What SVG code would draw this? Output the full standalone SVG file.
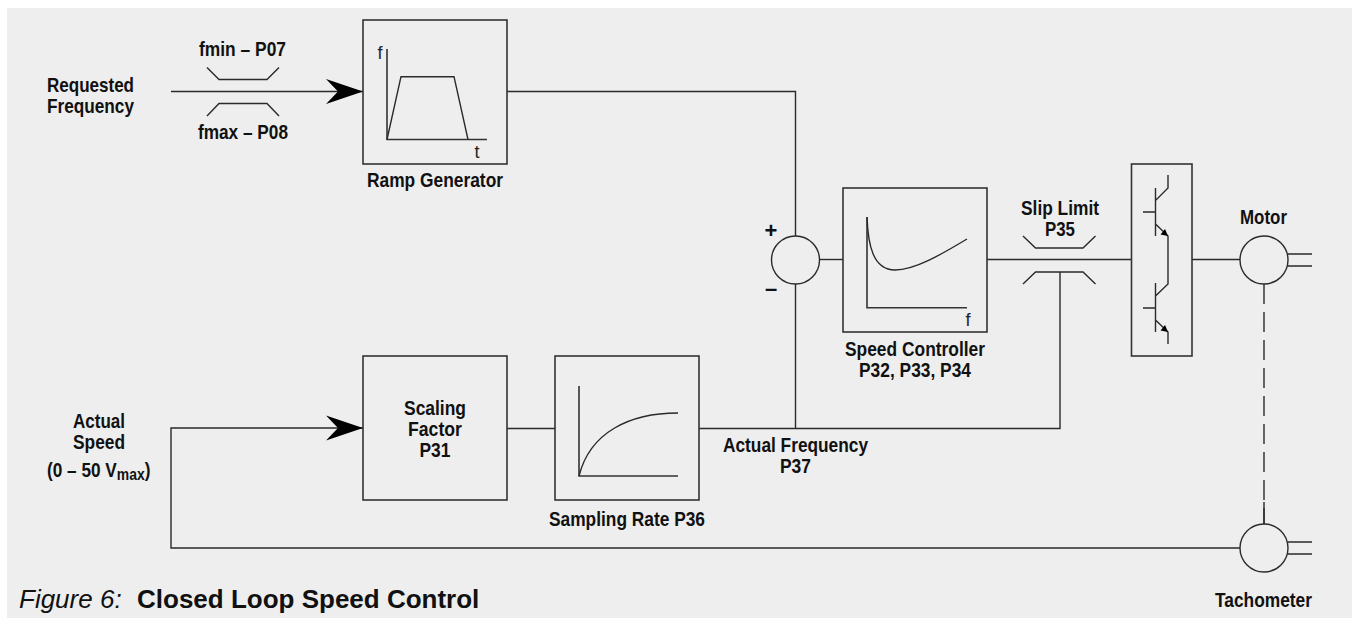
<svg xmlns="http://www.w3.org/2000/svg" width="1352" height="618" viewBox="0 0 1352 618">
<style>
.l{fill:none;stroke:#2a2a2a;stroke-width:1.4}
.b{fill:none;stroke:#333;stroke-width:1.6}
.t{font-family:"Liberation Sans",Arial,sans-serif;font-size:21px;font-weight:bold;fill:#111;text-anchor:middle}
.s{font-family:"Liberation Sans",Arial,sans-serif;font-size:18px;fill:#222;text-anchor:middle}
.p{font-family:"Liberation Sans",Arial,sans-serif;font-size:22px;font-weight:bold;fill:#111;text-anchor:middle}
.a{fill:#000}
</style>
<defs>
<path id="head" class="a" d="M0 0L-37 -12.500L-25 0L-37 12.500Z"/>
</defs>
<rect x="7" y="8" width="1345" height="610" fill="#eeeeee"/>
<g id="connectors">
<path class="l" d="M171 91.500H363"/>
<path class="l" d="M507 91.500H795.500V236"/>
<path class="l" d="M795.500 284V428"/>
<path class="l" d="M819.500 259.500H843"/>
<path class="l" d="M987 259.500H1131"/>
<path class="l" d="M1192 259.500H1240"/>
<path class="l" d="M699 428.500H1060V272"/>
<path class="l" d="M507 428.500H555"/>
<path class="l" d="M1240 548H171V428H363"/>
<path class="l" d="M1264 284V524" stroke-dasharray="20 8"/>
<use href="#head" x="363" y="91.500"/>
<use href="#head" x="363" y="428"/>
</g>
<g id="limit-fmin"><path class="l" d="M207 67.500L219 79.500H267L279 67.500"/><text class="t" x="242.500" y="56" textLength="87" lengthAdjust="spacingAndGlyphs">fmin – P07</text></g>
<g id="limit-fmax"><path class="l" d="M207 116L219 103.500H267L279 116"/><text class="t" x="243" y="139" textLength="90" lengthAdjust="spacingAndGlyphs">fmax – P08</text></g>
<g id="requested"><text class="t" x="90.500" y="91.500" textLength="87" lengthAdjust="spacingAndGlyphs">Requested</text><text class="t" x="90.500" y="112.500" textLength="87" lengthAdjust="spacingAndGlyphs">Frequency</text></g>
<g id="ramp-generator">
<rect class="b" x="363" y="20" width="144" height="144"/>
<path class="b" d="M387 49V139.500H487"/>
<path class="l" d="M387 139.500L401 76.700H454L468 139.500"/>
<text class="s" x="380" y="59">f</text><text class="s" x="477" y="158">t</text>
<text class="t" x="435" y="187" textLength="136" lengthAdjust="spacingAndGlyphs">Ramp Generator</text>
</g>
<g id="summing">
<circle class="l" cx="795.500" cy="260" r="24"/>
<text class="p" x="771" y="238">+</text>
<text class="p" x="771" y="296">–</text>
</g>
<g id="speed-controller">
<rect class="b" x="843" y="188" width="144" height="144"/>
<path class="b" d="M867 217V307.700H967"/>
<path class="l" d="M867 217C868 245 873 270 895 270C915 270 942 254 967 239"/>
<text class="s" x="968" y="326">f</text>
<text class="t" x="915" y="356" textLength="140" lengthAdjust="spacingAndGlyphs">Speed Controller</text><text class="t" x="915" y="377" textLength="112" lengthAdjust="spacingAndGlyphs">P32, P33, P34</text>
</g>
<g id="slip-limit">
<path class="l" d="M1023 236L1035.500 248H1083L1095.500 236"/>
<path class="l" d="M1023 284L1035.500 272H1083L1095.500 284"/>
<text class="t" x="1060" y="215" textLength="78" lengthAdjust="spacingAndGlyphs">Slip Limit</text><text class="t" x="1060" y="236" textLength="30" lengthAdjust="spacingAndGlyphs">P35</text>
</g>
<g id="inverter">
<rect class="b" x="1131.500" y="164" width="60.500" height="192"/>
<path class="l" d="M1168 175V188L1155.500 200.500M1155.500 188V236M1143 212H1155.500M1155.500 224L1168 236V284L1155.500 296M1155.500 283V332M1143 308H1155.500M1155.500 320L1168 332V344"/>
<path class="a" d="M1168 236L1160.500 234.500L1165 229Z"/><path class="a" d="M1168 332L1160.500 330.500L1165 325Z"/>
</g>
<g id="motor">
<circle class="l" cx="1264" cy="260" r="24"/>
<path class="l" d="M1287.500 254H1312M1287.500 266H1312"/>
<text class="t" x="1263.500" y="224" textLength="47" lengthAdjust="spacingAndGlyphs">Motor</text>
</g>
<g id="actual-speed">
<text class="t" x="99" y="428" textLength="52" lengthAdjust="spacingAndGlyphs">Actual</text><text class="t" x="99" y="449" textLength="52" lengthAdjust="spacingAndGlyphs">Speed</text>
<text class="t" style="text-anchor:start" transform="translate(47 477) scale(.82 1)">(0 – 50 V<tspan font-size="17" dy="3">max</tspan><tspan dy="-3">)</tspan></text>
</g>
<g id="scaling-factor">
<rect class="b" x="363" y="356" width="144" height="144"/>
<text class="t" x="435" y="415" textLength="62" lengthAdjust="spacingAndGlyphs">Scaling</text><text class="t" x="435" y="436" textLength="54" lengthAdjust="spacingAndGlyphs">Factor</text><text class="t" x="435" y="457" textLength="31" lengthAdjust="spacingAndGlyphs">P31</text>
</g>
<g id="sampling-rate">
<rect class="b" x="555" y="356" width="144" height="144"/>
<path class="b" d="M579 386V476H678"/>
<path class="l" d="M579 476C590 432 630 413 678 413"/>
<text class="t" x="627" y="526" textLength="156" lengthAdjust="spacingAndGlyphs">Sampling Rate P36</text>
</g>
<g id="actual-frequency"><text class="t" x="795.500" y="452" textLength="145" lengthAdjust="spacingAndGlyphs">Actual Frequency</text><text class="t" x="795.500" y="473" textLength="31" lengthAdjust="spacingAndGlyphs">P37</text></g>
<g id="tachometer">
<circle class="l" cx="1264" cy="548" r="24"/>
<path class="l" d="M1264 524V502M1287.500 542H1312M1287.500 554H1312"/>
<text class="t" x="1263.500" y="607" textLength="97" lengthAdjust="spacingAndGlyphs">Tachometer</text>
</g>
<text id="caption" x="19" y="608" font-family="Liberation Sans,Arial,sans-serif" font-size="26" fill="#111"><tspan font-style="italic">Figure 6:</tspan><tspan x="137" font-weight="bold">Closed Loop Speed Control</tspan></text>
</svg>
